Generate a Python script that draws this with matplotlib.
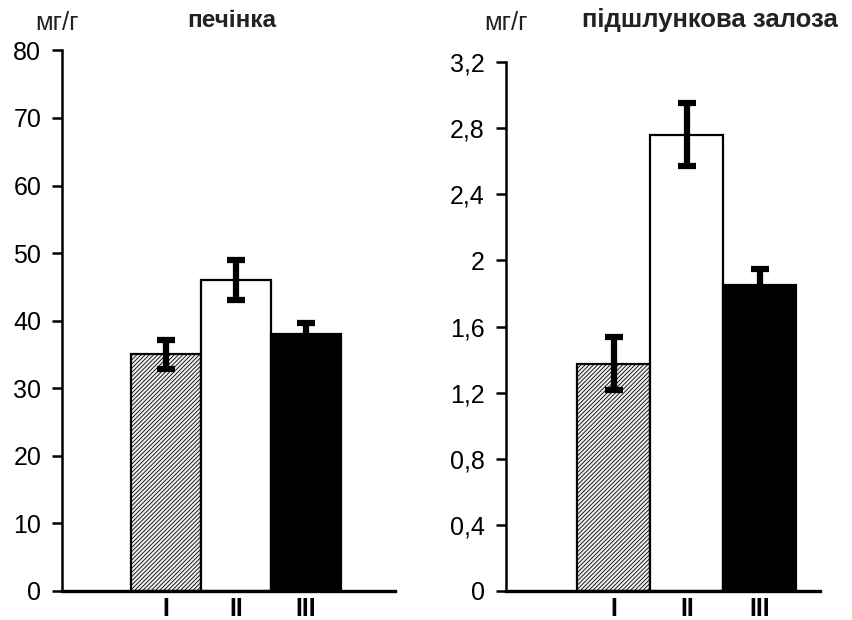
import matplotlib
matplotlib.use("Agg")
import matplotlib.pyplot as plt
from matplotlib.ticker import FuncFormatter

plt.rcParams['font.family'] = ['Liberation Sans', 'DejaVu Sans']
plt.rcParams['hatch.linewidth'] = 0.6
plt.rcParams['hatch.color'] = '#9a9a9a'

groups = ["I", "II", "III"]
liver = [35.0, 46.0, 38.0]
liver_err = [2.2, 3.0, 1.6]
pancreas = [1.375, 2.76, 1.85]
pancreas_err = [0.16, 0.19, 0.10]

fig = plt.figure(figsize=(8.53, 6.2), dpi=100)
ax1 = fig.add_axes([0.0727, 0.0468, 0.39, 0.872])
ax2 = fig.add_axes([0.593, 0.0468, 0.368, 0.853])

x = [1, 2, 3]
faces = ['#eeeeee', 'white', 'black']
hatches = ['////////', None, None]


def draw(ax, vals, errs, ymax, step, xlim, title, tsize, tx, ty, ux, uy, fmt):
    bars = ax.bar(x, vals, width=1.0, color=faces, edgecolor='black', linewidth=1.6, zorder=2)
    for b, h in zip(bars, hatches):
        if h:
            b.set_hatch(h)
    ax.errorbar(x, vals, yerr=errs, fmt='none', ecolor='black', elinewidth=4.5,
                capsize=6.5, capthick=4.5, zorder=3)
    ax.set_ylim(0, ymax)
    ax.set_xlim(*xlim)
    ticks = [i * step for i in range(int(round(ymax / step)) + 1)]
    ax.set_yticks(ticks)
    ax.yaxis.set_major_formatter(FuncFormatter(fmt))
    ax.set_xticks(x)
    ax.set_xticklabels(groups, fontweight='bold', fontsize=18)
    ax.tick_params(axis='x', length=0, pad=4)
    ax.tick_params(axis='y', direction='out', length=7, width=1.8, labelsize=18, pad=8)
    for s in ['top', 'right']:
        ax.spines[s].set_visible(False)
    ax.spines['left'].set_linewidth(1.8)
    ax.spines['bottom'].set_linewidth(2.4)
    ax.text(tx, ty, title, transform=ax.transAxes, fontweight='bold', fontsize=tsize,
            ha='center', va='center', color='#222222')
    ax.text(ux, uy, "мг/г", transform=ax.transAxes, fontsize=18.5, ha='center', va='center',
            color='#222222')


draw(ax1, liver, liver_err, 80, 10, (-0.49, 4.27), "печінка", 17.5, 0.51, 1.055, -0.015, 1.05,
     lambda v, p: f"{v:g}")
draw(ax2, pancreas, pancreas_err, 3.2, 0.4, (-0.48, 3.82), "підшлункова залоза", 18.5, 0.65,
     1.079, 0.0, 1.074,
     lambda v, p: f"{v:.1f}".rstrip('0').rstrip('.').replace('.', ','))

fig.savefig("out.png", dpi=100)
